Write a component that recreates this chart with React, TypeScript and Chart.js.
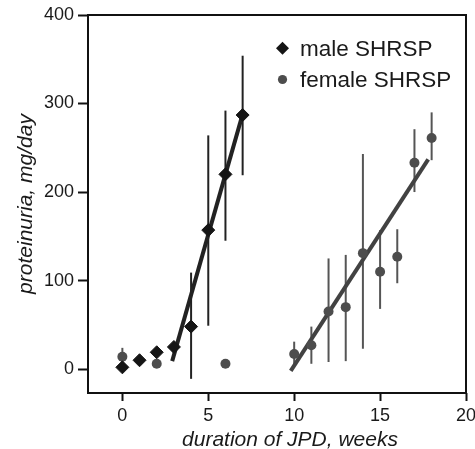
import { useEffect, useRef } from "react";
import { Chart, registerables } from "chart.js";

Chart.register(...registerables);

// ---- data ----
const xTicks = [0, 5, 10, 15, 20];
const yTicks = [0, 100, 200, 300, 400];

const maleWeeks = [0, 1, 2, 3, 4, 5, 6, 7];
const maleMean = [2, 10, 19, 25, 48, 157, 220, 287];
const maleLow = [2, 10, 19, 20, -11, 49, 145, 219];
const maleHigh = [2, 10, 19, 31, 109, 264, 292, 354];

const femaleWeeks = [0, 2, 6, 10, 11, 12, 13, 14, 15, 16, 17, 18];
const femaleMean = [14, 6, 6, 17, 27, 65, 70, 131, 110, 127, 233, 261];
const femaleLow = [5, 6, 6, 4, 6, 8, 9, 23, 68, 97, 200, 236];
const femaleHigh = [24, 6, 6, 31, 48, 125, 129, 243, 157, 158, 271, 290];

const maleFitWeeks = [2.9, 7];
const maleFitValues = [9, 288];
const femaleFitWeeks = [9.8, 17.8];
const femaleFitValues = [-2, 237];

const legendLabels = ["male SHRSP", "female SHRSP"];
const xTitle = "duration of JPD, weeks";
const yTitle = "proteinuria, mg/day";

const FONT = '"Liberation Sans", Arial, Helvetica, sans-serif';
const MALE_COLOR = "#151515";
const FEMALE_COLOR = "#4d4d4d";
const FEMALE_LINE = "#424242";
const FEMALE_ERR = "#555555";

const pts = (xs: number[], ys: number[]) => xs.map((x, i) => ({ x, y: ys[i] }));

const errorBarPlugin = {
  id: "errorBars",
  beforeDatasetsDraw(chart: any) {
    const { ctx, chartArea, scales } = chart;
    const xs = scales.x;
    const ys = scales.y;
    ctx.save();
    ctx.beginPath();
    ctx.rect(chartArea.left, chartArea.top, chartArea.right - chartArea.left, chartArea.bottom - chartArea.top);
    ctx.clip();
    ctx.lineWidth = 2;
    const draw = (wk: number[], lo: number[], hi: number[], color: string) => {
      ctx.strokeStyle = color;
      wk.forEach((w, i) => {
        if (hi[i] === lo[i]) return;
        const px = xs.getPixelForValue(w);
        ctx.beginPath();
        ctx.moveTo(px, ys.getPixelForValue(lo[i]));
        ctx.lineTo(px, ys.getPixelForValue(hi[i]));
        ctx.stroke();
      });
    };
    draw(femaleWeeks, femaleLow, femaleHigh, FEMALE_ERR);
    draw(maleWeeks, maleLow, maleHigh, "#222222");
    ctx.restore();
  },
};

const decorPlugin = {
  id: "decor",
  afterDraw(chart: any) {
    const { ctx, chartArea } = chart;
    ctx.save();
    // frame
    ctx.strokeStyle = "#111";
    ctx.lineWidth = 2;
    ctx.strokeRect(chartArea.left, chartArea.top, chartArea.right - chartArea.left, chartArea.bottom - chartArea.top);

    // axis titles
    ctx.fillStyle = "#1a1a1a";
    ctx.font = `italic 21px ${FONT}`;
    ctx.textAlign = "center";
    ctx.textBaseline = "alphabetic";
    ctx.fillText(xTitle, 290, 446);
    ctx.save();
    ctx.translate(32, 204);
    ctx.rotate(-Math.PI / 2);
    ctx.fillText(yTitle, 0, 0);
    ctx.restore();

    // legend
    ctx.font = `22.5px ${FONT}`;
    ctx.textAlign = "left";
    ctx.fillStyle = "#1a1a1a";
    ctx.fillText(legendLabels[0], 300, 56);
    ctx.fillText(legendLabels[1], 300, 86.5);
    // diamond
    const dx = 282.5, dy = 48.3, r = 6.5;
    ctx.fillStyle = MALE_COLOR;
    ctx.beginPath();
    ctx.moveTo(dx, dy - r);
    ctx.lineTo(dx + r, dy);
    ctx.lineTo(dx, dy + r);
    ctx.lineTo(dx - r, dy);
    ctx.closePath();
    ctx.fill();
    // circle
    ctx.fillStyle = FEMALE_COLOR;
    ctx.beginPath();
    ctx.arc(282.5, 79.5, 4.6, 0, Math.PI * 2);
    ctx.fill();
    ctx.restore();
  },
};

export default function App() {
  const ref = useRef<HTMLCanvasElement>(null);
  useEffect(() => {
    if (!ref.current) return;
    const chart = new Chart(ref.current, {
      type: "scatter",
      data: {
        datasets: [
          {
            label: legendLabels[0],
            data: pts(maleWeeks, maleMean),
            pointStyle: "rectRot",
            pointRadius: 6.5,
            backgroundColor: MALE_COLOR,
            borderColor: MALE_COLOR,
            borderWidth: 1,
            showLine: false,
          },
          {
            label: legendLabels[1],
            data: pts(femaleWeeks, femaleMean),
            pointStyle: "circle",
            pointRadius: 5,
            backgroundColor: FEMALE_COLOR,
            borderColor: FEMALE_COLOR,
            borderWidth: 0,
            showLine: false,
          },
          {
            label: "male fit",
            data: pts(maleFitWeeks, maleFitValues),
            showLine: true,
            borderColor: "#222222",
            borderWidth: 4,
            pointRadius: 0,
          },
          {
            label: "female fit",
            data: pts(femaleFitWeeks, femaleFitValues),
            showLine: true,
            borderColor: FEMALE_LINE,
            borderWidth: 4,
            pointRadius: 0,
          },
        ],
      },
      options: {
        responsive: false,
        animation: false,
        events: [],
        layout: { padding: { top: 15, right: 9, left: 0, bottom: 0 } },
        plugins: {
          legend: { display: false },
          tooltip: { enabled: false },
        },
        scales: {
          x: {
            type: "linear",
            min: -2,
            max: 20,
            border: { display: false },
            grid: {
              display: true,
              drawOnChartArea: false,
              drawTicks: true,
              tickLength: 8,
              tickWidth: 2,
              tickColor: "#111",
            },
            ticks: {
              color: "#1a1a1a",
              font: { family: FONT, size: 18 },
              padding: 4,
              maxRotation: 0,
            },
            afterBuildTicks: (s: any) => {
              s.ticks = xTicks.map((v) => ({ value: v }));
            },
            afterFit: (s: any) => {
              s.height = 56;
              s.paddingLeft = 0;
              s.paddingRight = 0;
            },
          },
          y: {
            type: "linear",
            min: -27,
            max: 400,
            border: { display: false },
            grid: {
              display: true,
              drawOnChartArea: false,
              drawTicks: true,
              tickLength: 10,
              tickWidth: 2,
              tickColor: "#111",
            },
            ticks: {
              color: "#1a1a1a",
              font: { family: FONT, size: 18 },
              padding: 4,
            },
            afterBuildTicks: (s: any) => {
              s.ticks = yTicks.map((v) => ({ value: v }));
            },
            afterFit: (s: any) => {
              s.width = 88;
              s.paddingTop = 0;
              s.paddingBottom = 0;
            },
          },
        },
      },
      plugins: [errorBarPlugin, decorPlugin],
    } as any);
    return () => chart.destroy();
  }, []);
  return (
    <div style={{ position: "absolute", left: 0, top: 0, width: 475, height: 449 }}>
      <canvas ref={ref} width={475} height={449} />
    </div>
  );
}
